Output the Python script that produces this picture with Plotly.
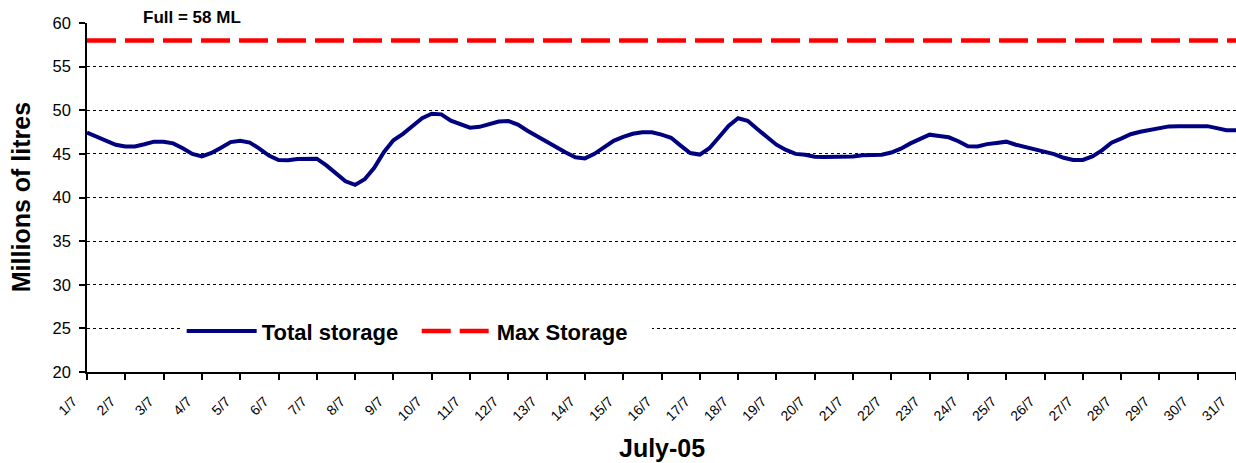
import pandas as pd
import plotly.graph_objects as go

# ---- data (6-hourly readings, July 2005) ----
start = "2005-07-01 00:00"
total_storage = [
    47.45, 46.98, 46.51, 46.04,  # 1/7
    45.85, 45.85, 46.10, 46.40,  # 2/7
    46.40, 46.20, 45.65, 45.00,  # 3/7
    44.70, 45.10, 45.70, 46.35,  # 4/7
    46.50, 46.30, 45.60, 44.80,  # 5/7
    44.30, 44.26, 44.40, 44.46,  # 6/7
    44.45, 43.68, 42.80, 41.85,  # 7/7
    41.45, 42.10, 43.40, 45.20,  # 8/7
    46.55, 47.30, 48.20, 49.10,  # 9/7
    49.60, 49.53, 48.80, 48.38,  # 10/7
    48.00, 48.10, 48.38, 48.70,  # 11/7
    48.76, 48.35, 47.65, 47.00,  # 12/7
    46.35, 45.70, 45.15, 44.62,  # 13/7
    44.48, 45.00, 45.70, 46.50,  # 14/7
    46.95, 47.30, 47.48, 47.48,  # 15/7
    47.20, 46.85, 45.95, 45.10,  # 16/7
    44.92, 45.65, 46.90, 48.20,  # 17/7
    49.08, 48.80, 47.85, 47.02,  # 18/7
    46.05, 45.45, 45.00, 44.90,  # 19/7
    44.68, 44.65, 44.65, 44.65,  # 20/7
    44.70, 44.85, 44.87, 44.90,  # 21/7
    45.15, 45.60, 46.20, 46.73,  # 22/7
    47.20, 47.05, 46.90, 46.45,  # 23/7
    45.87, 45.85, 46.12, 46.25,  # 24/7
    46.40, 46.05, 45.78, 45.58,  # 25/7
    45.25, 44.98, 44.55, 44.30,  # 26/7
    44.30, 44.70, 45.40, 46.28,  # 27/7
    46.75, 47.25, 47.53, 47.70,  # 28/7
    47.92, 48.15, 48.18, 48.18,  # 29/7
    48.18, 48.18, 47.95, 47.72,  # 30/7
    47.71,                       # 31/7
]
max_storage = 58
tick_labels = [f"{d}/7" for d in range(1, 32)]
y_ticks = [20, 25, 30, 35, 40, 45, 50, 55, 60]

times = pd.date_range(start, periods=len(total_storage), freq="6h")
days = pd.date_range(start, periods=len(tick_labels), freq="D")

FONT = "Liberation Sans, Arial, sans-serif"

fig = go.Figure()
fig.add_trace(go.Scatter(
    x=times, y=total_storage, mode="lines", name="Total storage",
    line=dict(color="#000080", width=4),
))
fig.add_trace(go.Scatter(
    x=[days[0], days[-1]], y=[max_storage, max_storage], mode="lines",
    name="Max Storage",
    line=dict(color="#ff0000", width=4.5, dash="29px,9px"),
))

fig.update_layout(
    width=1236, height=463,
    margin=dict(l=87, r=0, t=23, b=91),
    paper_bgcolor="white", plot_bgcolor="white",
    font=dict(family=FONT, color="black"),
    showlegend=True,
    legend=dict(
        orientation="h", x=0.0824, y=0.117, xanchor="left", yanchor="middle",
        bgcolor="white", font=dict(size=22, family=FONT, color="black", weight="bold"),
        itemwidth=70, entrywidth=150, entrywidthmode="pixels",
        tracegroupgap=0, borderwidth=0,
    ),
    annotations=[
        dict(text="<b>Full = 58 ML</b>", xref="paper", yref="paper",
             x=0.0916, y=1.0152, xanchor="center", yanchor="middle",
             showarrow=False, font=dict(size=17, family=FONT, color="black")),
        dict(text="<b>Millions of litres</b>", xref="paper", yref="paper",
             x=-0.0577, y=0.5, xanchor="center", yanchor="middle", textangle=-90,
             showarrow=False, font=dict(size=25, family=FONT, color="black")),
        dict(text="<b>July-05</b>", xref="paper", yref="paper",
             x=0.5, y=-0.219, xanchor="center", yanchor="middle",
             showarrow=False, font=dict(size=25, family=FONT, color="black")),
    ],
)

fig.update_xaxes(
    range=[days[0], days[-1]],
    tickvals=list(days), ticktext=tick_labels, tickangle=-45,
    tickfont=dict(size=14, family=FONT, color="black"),
    ticks="outside", ticklen=6, tickwidth=1.5, tickcolor="black",
    ticklabelshift=-14, ticklabelstandoff=8,
    showline=True, linecolor="black", linewidth=1.5,
    showgrid=False, zeroline=False,
)
fig.update_yaxes(
    range=[20, 60], tickvals=y_ticks,
    tickfont=dict(size=16.5, family=FONT, color="black"),
    ticks="outside", ticklen=6, tickwidth=1.5, tickcolor="black",
    ticklabelstandoff=5,
    showline=True, linecolor="black", linewidth=1.5,
    showgrid=True, gridcolor="black", gridwidth=1, griddash="dot",
    zeroline=False,
)

fig.write_html(
    "out.html",
    config={"displayModeBar": False},
    post_script="document.body.style.margin='0';document.body.style.overflow='hidden';",
)
